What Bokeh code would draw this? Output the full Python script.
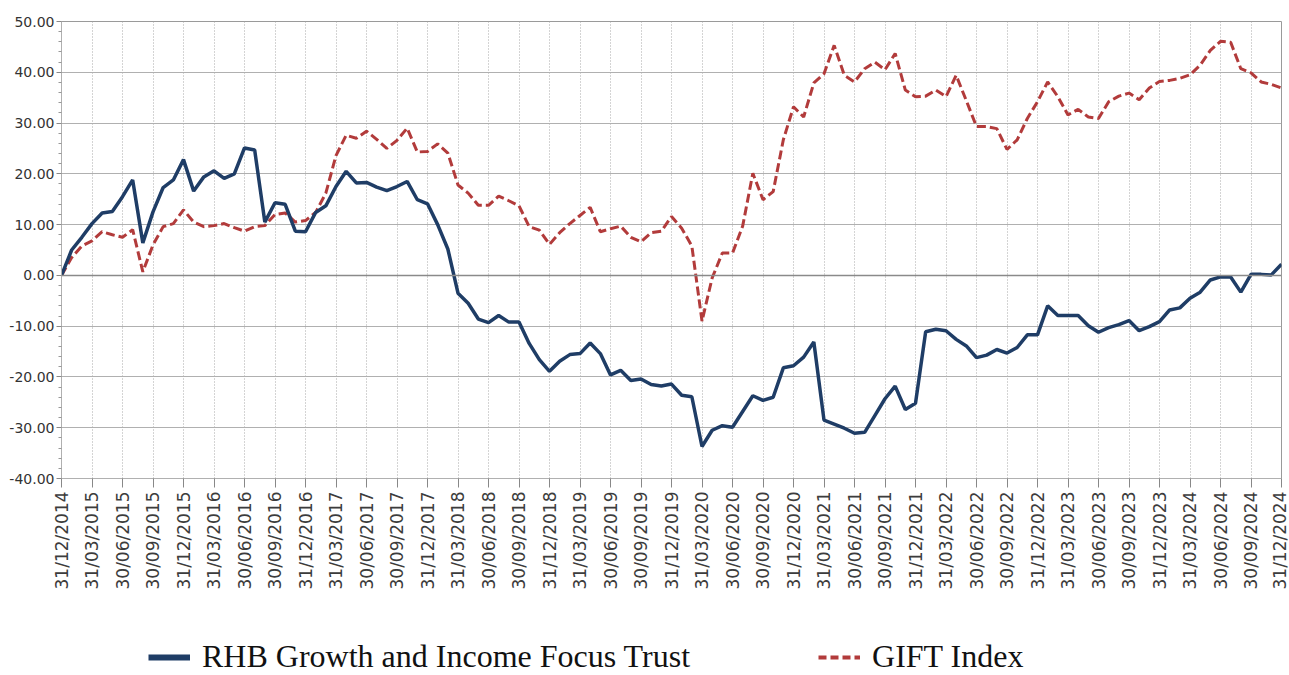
import math
from bokeh.plotting import figure
from bokeh.layouts import column
from bokeh.models import FixedTicker, Span, Legend, LegendItem, NumeralTickFormatter, Range1d
from bokeh.embed import file_html
from bokeh.resources import INLINE

quarter_labels = [
    "31/12/2014", "31/03/2015", "30/06/2015", "30/09/2015", "31/12/2015",
    "31/03/2016", "30/06/2016", "30/09/2016", "31/12/2016",
    "31/03/2017", "30/06/2017", "30/09/2017", "31/12/2017",
    "31/03/2018", "30/06/2018", "30/09/2018", "31/12/2018",
    "31/03/2019", "30/06/2019", "30/09/2019", "31/12/2019",
    "31/03/2020", "30/06/2020", "30/09/2020", "31/12/2020",
    "31/03/2021", "30/06/2021", "30/09/2021", "31/12/2021",
    "31/03/2022", "30/06/2022", "30/09/2022", "31/12/2022",
    "31/03/2023", "30/06/2023", "30/09/2023", "31/12/2023",
    "31/03/2024", "30/06/2024", "30/09/2024", "31/12/2024",
]

rhb = [
    0.0, 5.0, 7.5, 10.2, 12.3, 12.6, 15.5, 18.8, 6.4, 12.5,
    17.3, 18.8, 22.8, 16.6, 19.4, 20.6, 19.1, 20.0, 25.1, 24.7,
    10.5, 14.3, 14.0, 8.7, 8.6, 12.4, 13.7, 17.5, 20.5, 18.2,
    18.3, 17.4, 16.7, 17.5, 18.5, 14.9, 14.1, 10.0, 5.2, -3.5,
    -5.5, -8.6, -9.3, -7.9, -9.2, -9.2, -13.4, -16.6, -18.9, -16.9,
    -15.6, -15.4, -13.3, -15.4, -19.6, -18.7, -20.7, -20.4, -21.5, -21.8,
    -21.4, -23.6, -23.9, -33.7, -30.5, -29.6, -29.9, -26.8, -23.7, -24.6,
    -24.0, -18.2, -17.8, -16.1, -13.1, -28.5, -29.3, -30.1, -31.1, -30.9,
    -27.6, -24.3, -21.8, -26.4, -25.2, -11.1, -10.6, -10.9, -12.6, -13.9,
    -16.2, -15.7, -14.6, -15.3, -14.2, -11.7, -11.7, -6.0, -7.9, -7.9,
    -7.9, -9.9, -11.2, -10.3, -9.7, -8.9, -10.9, -10.1, -9.1, -6.8,
    -6.4, -4.5, -3.3, -0.9, -0.3, -0.3, -3.3, 0.2, 0.2, 0.1,
    2.2,
]

gift = [
    0.0, 3.5, 5.8, 6.8, 8.6, 8.0, 7.5, 9.0, 0.7, 6.0,
    9.6, 10.2, 12.9, 10.5, 9.6, 9.8, 10.2, 9.4, 8.7, 9.6,
    9.8, 12.0, 12.3, 10.5, 10.8, 12.4, 16.2, 23.6, 27.6, 27.0,
    28.4, 26.8, 25.0, 26.6, 29.0, 24.3, 24.4, 25.9, 24.1, 17.8,
    16.2, 13.8, 13.8, 15.6, 14.7, 13.7, 9.6, 8.9, 6.1, 8.4,
    10.2, 11.8, 13.4, 8.6, 9.2, 9.7, 7.5, 6.6, 8.4, 8.7,
    11.6, 9.3, 5.8, -9.0, -0.5, 4.4, 4.4, 9.7, 20.1, 14.9,
    16.5, 26.7, 33.2, 31.2, 37.9, 39.7, 45.3, 39.4, 38.1, 40.7,
    42.0, 40.5, 43.7, 36.5, 35.2, 35.3, 36.5, 35.2, 39.4, 34.4,
    29.3, 29.3, 28.9, 24.8, 26.7, 30.9, 34.2, 38.1, 35.2, 31.6,
    32.7, 31.2, 30.9, 34.2, 35.3, 35.9, 34.6, 36.9, 38.2, 38.4,
    38.8, 39.5, 41.4, 44.3, 46.1, 45.9, 40.7, 39.9, 38.1, 37.6,
    36.9,
]

series_names = ["RHB Growth and Income Focus Trust", "GIFT Index"]
y_ticks = [-40, -30, -20, -10, 0, 10, 20, 30, 40, 50]

BLUE = "#1f3d66"
RED = "#b23b3b"

months = list(range(len(rhb)))
q_pos = [3 * k for k in range(len(quarter_labels))]

p = figure(width=1289, height=620, output_backend="svg", toolbar_location=None,
           x_range=Range1d(0, months[-1]), y_range=Range1d(y_ticks[0], y_ticks[-1]),
           min_border_left=61, min_border_right=8, min_border_top=21, min_border_bottom=142)

p.outline_line_color = "#9a9a9a"
p.background_fill_color = "white"

# grids
p.ygrid.grid_line_color = "#b0b0b0"
p.ygrid.grid_line_width = 1
p.xgrid.grid_line_color = "#a8a8a8"
p.xgrid.grid_line_dash = "1 2"

# x axis
p.xaxis.ticker = FixedTicker(ticks=q_pos)
p.xaxis.major_label_overrides = {q: lab for q, lab in zip(q_pos, quarter_labels)}
p.xaxis.major_label_orientation = math.pi / 2
p.xaxis.major_label_text_font = "DejaVu Sans"
p.xaxis.major_label_text_font_size = "17px"
p.xaxis.major_label_text_color = "#3c3c3c"
p.xaxis.major_tick_out = 9
p.xaxis.major_tick_in = 0
p.xaxis.minor_tick_line_color = None
p.xaxis.axis_line_color = "#b0b0b0"
p.xaxis.major_tick_line_color = "#888888"
p.xaxis.major_label_standoff = 4

# y axis
minor = [t + d for t in y_ticks[:-1] for d in (2, 4, 6, 8)]
p.yaxis.ticker = FixedTicker(ticks=y_ticks, minor_ticks=minor)
p.yaxis.formatter = NumeralTickFormatter(format="0.00")
p.yaxis.major_label_text_font = "DejaVu Sans"
p.yaxis.major_label_text_font_size = "14px"
p.yaxis.major_label_text_color = "#333333"
p.yaxis.major_tick_out = 5
p.yaxis.major_tick_in = 0
p.yaxis.minor_tick_out = 3
p.yaxis.minor_tick_in = 0
p.yaxis.axis_line_color = "#b0b0b0"
p.yaxis.major_tick_line_color = "#888888"
p.yaxis.minor_tick_line_color = "#999999"
p.yaxis.major_label_standoff = 2

p.add_layout(Span(location=0, dimension="width", line_color="#8a8a8a", line_width=1.5))

p.line(months, gift, line_color=RED, line_width=3, line_dash="9 4")
p.line(months, rhb, line_color=BLUE, line_width=3.5)

# legend in a separate strip below the chart (proxy lines lie outside its view)
lg = figure(width=1289, height=55, output_backend="svg", toolbar_location=None,
            x_range=Range1d(-3, -2), y_range=Range1d(-100, -99),
            min_border_left=0, min_border_right=0, min_border_top=0, min_border_bottom=0,
            x_axis_type=None, y_axis_type=None)
lg.outline_line_color = None
lg.grid.visible = False
lg_blue = lg.line(months, rhb, line_color=BLUE, line_width=6)
lg_red = lg.line(months, gift, line_color=RED, line_width=4, line_dash="8 4")

legend = Legend(items=[LegendItem(label=series_names[0], renderers=[lg_blue]),
                       LegendItem(label=series_names[1], renderers=[lg_red])],
                orientation="horizontal", location=(87, 0),
                label_text_font="Liberation Serif", label_text_font_size="32px",
                label_text_color="#111111",
                glyph_width=42, glyph_height=20, label_standoff=12, spacing=128,
                padding=0, margin=0, border_line_color=None, background_fill_alpha=0)
lg.add_layout(legend, "center")

layout = column(p, lg, spacing=0)
open("out.html", "w").write(file_html(layout, INLINE))
